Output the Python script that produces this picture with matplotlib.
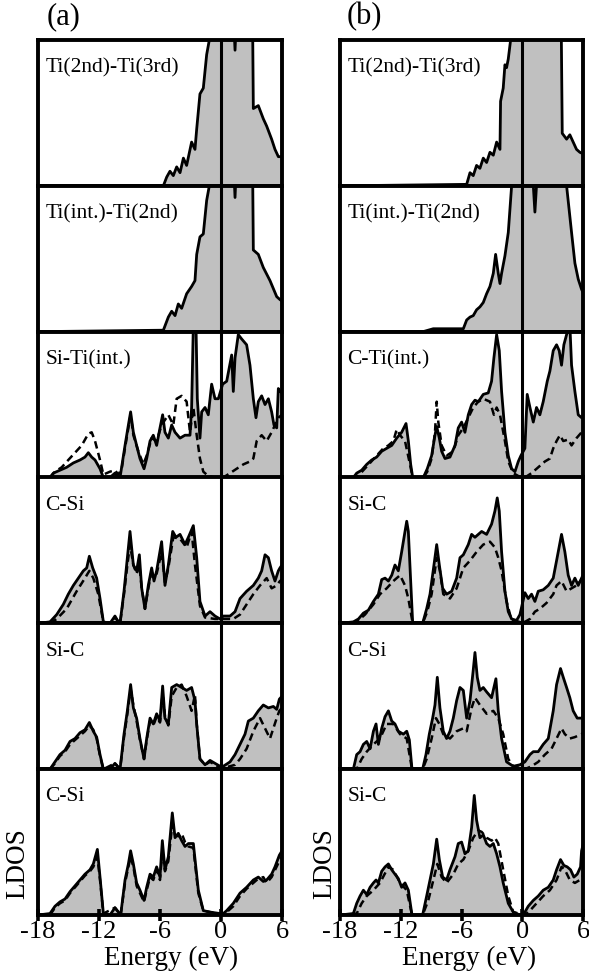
import matplotlib
matplotlib.use('Agg')
import matplotlib.pyplot as plt

plt.rcParams['font.family'] = 'serif'
plt.rcParams['font.serif'] = ['Liberation Serif', 'DejaVu Serif']
plt.rcParams['axes.unicode_minus'] = False

# energy axis
x_ticks = [-18, -12, -6, 0, 6]

labels_a = ['Ti(2nd)-Ti(3rd)', 'Ti(int.)-Ti(2nd)', 'Si-Ti(int.)', 'C-Si', 'Si-C', 'C-Si']
labels_b = ['Ti(2nd)-Ti(3rd)', 'Ti(int.)-Ti(2nd)', 'C-Ti(int.)', 'Si-C', 'C-Si', 'Si-C']

# (energy, LDOS), LDOS scaled to panel height
a1_solid = [(-18, 0), (-5.67, 0), (-5.34, 0.06), (-5.02, 0.10), (-4.69, 0.07), (-4.36, 0.13), (-4.03, 0.09),
            (-3.70, 0.19), (-3.38, 0.14), (-2.89, 0.30), (-2.56, 0.25), (-2.39, 0.39), (-2.07, 0.63), (-1.74, 0.67),
            (-1.41, 0.90), (-1.15, 1.0), (-0.5, 1.3), (0.5, 1.3), (1.2, 1.2), (1.38, 0.93), (1.55, 1.2), (2.5, 1.3),
            (3.1, 1.2), (3.18, 0.53), (3.67, 0.55), (4.16, 0.46), (4.49, 0.41), (4.98, 0.32), (5.31, 0.25),
            (5.64, 0.20), (6.0, 0.20)]
a2_solid = [(-18, 0), (-5.67, 0.01), (-5.18, 0.10), (-4.85, 0.14), (-4.52, 0.11), (-4.20, 0.19), (-3.87, 0.16),
            (-3.38, 0.26), (-2.89, 0.31), (-2.56, 0.35), (-2.39, 0.53), (-2.07, 0.65), (-1.74, 0.67), (-1.41, 0.90),
            (-1.15, 1.0), (-0.5, 1.3), (0.5, 1.3), (1.2, 1.2), (1.38, 0.92), (1.55, 1.2), (2.5, 1.3), (3.1, 1.2),
            (3.18, 0.56), (3.67, 0.53), (4.16, 0.44), (4.82, 0.35), (5.48, 0.24), (5.80, 0.22), (6.0, 0.21)]
a3_solid = [(-18, 0), (-16.82, 0), (-16.49, 0.03), (-15.84, 0.05), (-15.18, 0.07), (-14.52, 0.10), (-13.87, 0.12),
            (-13.38, 0.14), (-13.05, 0.17), (-12.72, 0.14), (-12.39, 0.12), (-11.90, 0.06), (-11.57, 0),
            (-10.92, 0), (-10.43, 0.03), (-10.10, 0), (-9.93, 0), (-9.44, 0.22), (-9.11, 0.36), (-8.89, 0.45),
            (-8.62, 0.31), (-8.30, 0.22), (-7.97, 0.13), (-7.57, 0.06), (-7.31, 0.13), (-6.98, 0.25), (-6.66, 0.29),
            (-6.33, 0.22), (-6.00, 0.34), (-5.74, 0.43), (-5.51, 0.31), (-5.18, 0.27), (-4.85, 0.36), (-4.52, 0.31),
            (-4.03, 0.27), (-3.54, 0.29), (-3.05, 0.29), (-2.89, 0.48), (-2.72, 1.05), (-2.46, 1.05), (-2.33, 0.54),
            (-2.07, 0.27), (-1.90, 0.45), (-1.57, 0.48), (-1.25, 0.43), (-0.92, 0.64), (-0.59, 0.54), (-0.26, 0.54),
            (0.16, 0.64), (0.56, 0.66), (1.05, 0.84), (1.21, 0.59), (1.38, 0.82), (1.70, 0.98), (2.03, 0.95),
            (2.52, 0.91), (2.85, 0.77), (3.18, 0.54), (3.44, 0.41), (3.67, 0.52), (4.00, 0.56), (4.33, 0.50),
            (4.66, 0.54), (4.98, 0.45), (5.21, 0.36), (5.48, 0.34), (5.64, 0.61), (5.80, 0.59), (6.0, 0.58)]
a3_dash = [(-18, 0), (-16.82, 0), (-16.33, 0.04), (-15.67, 0.07), (-15.02, 0.12), (-14.36, 0.17), (-13.70, 0.22),
           (-13.05, 0.30), (-12.72, 0.31), (-12.39, 0.25), (-11.90, 0.12), (-11.57, 0.02), (-10.92, 0.04),
           (-10.43, 0.05), (-10.10, 0.02), (-9.77, 0.06), (-9.28, 0.27), (-8.89, 0.43), (-8.62, 0.29), (-8.13, 0.18),
           (-7.64, 0.09), (-7.31, 0.15), (-6.82, 0.27), (-6.33, 0.25), (-5.84, 0.36), (-5.18, 0.43), (-4.69, 0.36),
           (-4.36, 0.54), (-3.87, 0.56), (-3.38, 0.52), (-3.05, 0.31), (-2.72, 0.48), (-2.39, 0.29), (-2.07, 0.13),
           (-1.74, 0.04), (-1.25, 0.01), (-0.59, 0), (0.23, 0), (0.89, 0.03), (1.54, 0.06), (2.20, 0.09),
           (2.85, 0.11), (3.18, 0.13), (3.51, 0.25), (4.00, 0.29), (4.49, 0.25), (4.98, 0.31), (5.31, 0.36),
           (5.64, 0.41), (6.0, 0.43)]
a4_solid = [(-18, 0), (-16.82, 0.01), (-16.16, 0.06), (-15.51, 0.13), (-15.02, 0.20), (-14.52, 0.26), (-14.03, 0.31),
            (-13.54, 0.36), (-13.21, 0.38), (-12.95, 0.46), (-12.62, 0.38), (-12.23, 0.31), (-11.90, 0.17),
            (-11.57, 0.01), (-10.92, 0), (-10.43, 0.05), (-10.10, 0.01), (-9.93, 0), (-9.54, 0.22), (-9.21, 0.45),
            (-8.95, 0.63), (-8.62, 0.40), (-8.30, 0.36), (-8.03, 0.47), (-7.80, 0.24), (-7.48, 0.10), (-7.15, 0.26),
            (-6.82, 0.38), (-6.59, 0.29), (-6.33, 0.36), (-5.84, 0.56), (-5.51, 0.26), (-5.18, 0.40), (-4.75, 0.63),
            (-4.43, 0.59), (-4.03, 0.61), (-3.54, 0.54), (-3.21, 0.59), (-2.72, 0.67), (-2.39, 0.45), (-2.07, 0.15),
            (-1.57, 0.05), (-1.08, 0.08), (-0.59, 0.05), (-0.10, 0.03), (0.23, 0.05), (0.89, 0.05), (1.38, 0.08),
            (1.87, 0.17), (2.52, 0.22), (3.18, 0.26), (3.67, 0.31), (4.00, 0.36), (4.33, 0.47), (4.66, 0.45),
            (4.98, 0.36), (5.31, 0.29), (5.64, 0.36), (5.80, 0.38), (6.0, 0.40)]
a4_dash = [(-18, 0), (-16.82, 0), (-16.16, 0.03), (-15.18, 0.10), (-14.20, 0.22), (-13.38, 0.31), (-12.95, 0.36),
           (-12.56, 0.31), (-12.07, 0.20), (-11.57, 0.01), (-10.92, 0), (-10.43, 0.04), (-9.93, 0), (-9.54, 0.20),
           (-9.21, 0.40), (-8.95, 0.54), (-8.62, 0.40), (-8.30, 0.34), (-8.03, 0.40), (-7.80, 0.24), (-7.48, 0.10),
           (-7.15, 0.24), (-6.82, 0.36), (-6.33, 0.34), (-5.84, 0.49), (-5.51, 0.28), (-5.18, 0.38), (-4.69, 0.59),
           (-4.03, 0.58), (-3.38, 0.52), (-2.89, 0.63), (-2.56, 0.40), (-2.07, 0.12), (-1.57, 0.04), (-0.59, 0.03),
           (0.23, 0.03), (1.21, 0.03), (1.87, 0.06), (2.52, 0.13), (3.18, 0.20), (3.84, 0.26), (4.49, 0.31),
           (4.98, 0.24), (5.48, 0.26), (5.80, 0.29), (6.0, 0.30)]
a5_solid = [(-18, 0), (-16.82, 0), (-16.33, 0.05), (-15.84, 0.10), (-15.34, 0.13), (-14.85, 0.19), (-14.36, 0.21),
            (-13.87, 0.25), (-13.38, 0.27), (-12.95, 0.32), (-12.56, 0.26), (-12.23, 0.22), (-11.90, 0.10),
            (-11.57, 0), (-10.92, 0), (-10.43, 0.04), (-9.93, 0), (-9.54, 0.24), (-9.21, 0.40), (-8.89, 0.58),
            (-8.62, 0.42), (-8.30, 0.35), (-7.97, 0.21), (-7.57, 0.07), (-7.31, 0.21), (-6.98, 0.35), (-6.66, 0.31),
            (-6.33, 0.38), (-6.00, 0.33), (-5.74, 0.57), (-5.51, 0.35), (-5.18, 0.31), (-4.85, 0.56), (-4.36, 0.58),
            (-3.87, 0.56), (-3.38, 0.54), (-2.89, 0.56), (-2.56, 0.47), (-2.39, 0.31), (-2.07, 0.07), (-1.57, 0.03),
            (-1.08, 0.06), (-0.59, 0.04), (-0.10, 0.02), (0.23, 0.02), (0.89, 0.05), (1.38, 0.10), (1.87, 0.17),
            (2.36, 0.24), (2.69, 0.33), (3.18, 0.35), (3.67, 0.40), (4.16, 0.44), (4.66, 0.42), (5.15, 0.43),
            (5.48, 0.41), (5.74, 0.48), (6.0, 0.50)]
a5_dash = [(-18, 0), (-16.82, 0), (-16.33, 0.04), (-15.84, 0.09), (-15.34, 0.12), (-14.85, 0.17), (-14.36, 0.20),
           (-13.87, 0.23), (-13.38, 0.26), (-12.95, 0.30), (-12.56, 0.27), (-12.23, 0.21), (-11.90, 0.09),
           (-11.57, 0), (-10.43, 0.04), (-9.93, 0), (-9.54, 0.22), (-9.21, 0.38), (-8.89, 0.55), (-8.62, 0.44),
           (-8.30, 0.33), (-7.97, 0.20), (-7.57, 0.07), (-7.31, 0.20), (-6.98, 0.33), (-6.66, 0.30), (-6.33, 0.36),
           (-6.00, 0.32), (-5.74, 0.52), (-5.51, 0.36), (-5.18, 0.30), (-4.85, 0.50), (-4.36, 0.56), (-3.87, 0.58),
           (-3.38, 0.50), (-2.89, 0.40), (-2.56, 0.51), (-2.39, 0.31), (-2.07, 0.07), (-1.57, 0.03), (-1.08, 0.05),
           (-0.59, 0.03), (-0.10, 0.01), (0.23, 0.01), (0.89, 0.02), (1.38, 0.03), (1.87, 0.07), (2.52, 0.14),
           (3.18, 0.26), (3.84, 0.35), (4.33, 0.28), (4.82, 0.21), (5.15, 0.28), (5.48, 0.35), (5.74, 0.40),
           (6.0, 0.42)]
a6_solid = [(-18, 0), (-16.82, 0.01), (-16.33, 0.06), (-15.84, 0.09), (-15.34, 0.11), (-14.85, 0.16), (-14.36, 0.20),
            (-13.87, 0.24), (-13.38, 0.28), (-12.89, 0.31), (-12.56, 0.35), (-12.16, 0.45), (-11.90, 0.26),
            (-11.57, 0.01), (-10.92, 0), (-10.43, 0.05), (-9.87, 0), (-9.44, 0.24), (-9.11, 0.35), (-8.89, 0.44),
            (-8.62, 0.35), (-8.30, 0.22), (-7.97, 0.17), (-7.57, 0.10), (-7.31, 0.19), (-6.98, 0.28), (-6.66, 0.26),
            (-6.33, 0.33), (-6.00, 0.26), (-5.77, 0.51), (-5.51, 0.31), (-5.18, 0.40), (-4.79, 0.70), (-4.52, 0.53),
            (-4.20, 0.56), (-3.87, 0.51), (-3.54, 0.47), (-3.21, 0.49), (-2.72, 0.49), (-2.23, 0.17), (-1.74, 0.03),
            (-1.08, 0.02), (-0.10, 0.01), (0.07, 0), (0.56, 0.03), (1.21, 0.08), (1.87, 0.15), (2.52, 0.19),
            (3.18, 0.24), (3.67, 0.26), (4.16, 0.23), (4.49, 0.24), (4.98, 0.28), (5.31, 0.33), (5.74, 0.41),
            (6.0, 0.44)]
a6_dash = [(-18, 0), (-16.82, 0), (-16.33, 0.05), (-15.84, 0.08), (-15.34, 0.10), (-14.85, 0.15), (-14.36, 0.19),
           (-13.87, 0.23), (-13.38, 0.27), (-12.89, 0.30), (-12.56, 0.33), (-12.16, 0.40), (-11.90, 0.24),
           (-11.57, 0.01), (-10.43, 0.05), (-9.87, 0), (-9.44, 0.22), (-9.11, 0.33), (-8.89, 0.40), (-8.62, 0.33),
           (-8.30, 0.20), (-7.97, 0.15), (-7.57, 0.09), (-7.31, 0.17), (-6.98, 0.26), (-6.66, 0.24), (-6.33, 0.31),
           (-6.00, 0.24), (-5.77, 0.44), (-5.51, 0.30), (-5.18, 0.37), (-4.79, 0.62), (-4.52, 0.55), (-4.20, 0.54),
           (-3.87, 0.56), (-3.54, 0.50), (-3.21, 0.47), (-2.72, 0.46), (-2.23, 0.15), (-1.74, 0.03), (-1.08, 0.02),
           (-0.10, 0.01), (0.07, 0), (0.56, 0.02), (1.21, 0.06), (1.87, 0.13), (2.52, 0.18), (3.18, 0.22),
           (3.51, 0.24), (4.16, 0.26), (4.49, 0.22), (4.98, 0.26), (5.74, 0.37), (6.0, 0.40)]

b1_solid = [(-18, 0), (-5.49, 0.01), (-5.16, 0.09), (-4.84, 0.07), (-4.51, 0.14), (-4.18, 0.12), (-3.85, 0.19),
            (-3.52, 0.16), (-3.19, 0.23), (-2.86, 0.21), (-2.53, 0.30), (-2.20, 0.25), (-2.14, 0.58), (-1.88, 0.67),
            (-1.71, 0.83), (-1.55, 0.81), (-1.38, 0.87), (-1.15, 1.0), (0, 1.3), (3.6, 1.3), (3.85, 1.1),
            (3.95, 0.36), (4.38, 0.32), (4.70, 0.35), (5.03, 0.30), (5.36, 0.25), (5.69, 0.23), (6.0, 0.22)]
b2_solid = [(-18, 0), (-9.8, 0), (-8.79, 0.02), (-5.82, 0.02), (-5.49, 0.08), (-5.16, 0.10), (-4.84, 0.11),
            (-4.51, 0.15), (-4.18, 0.17), (-3.85, 0.20), (-3.52, 0.26), (-3.19, 0.31), (-2.86, 0.40), (-2.63, 0.53),
            (-2.37, 0.40), (-2.20, 0.33), (-2.04, 0.40), (-1.71, 0.52), (-1.38, 0.68), (-1.05, 1.0), (0, 1.3),
            (1.05, 1.05), (1.25, 0.82), (1.45, 1.05), (2.0, 1.3), (4.2, 1.3), (4.38, 1.0), (4.87, 0.68),
            (5.20, 0.47), (5.53, 0.36), (5.86, 0.29), (6.0, 0.27)]
b3_solid = [(-18, 0), (-16.68, 0), (-16.35, 0.03), (-15.86, 0.05), (-15.36, 0.09), (-14.87, 0.12), (-14.38, 0.14),
            (-13.88, 0.18), (-13.39, 0.20), (-12.89, 0.22), (-12.40, 0.27), (-11.91, 0.31), (-11.48, 0.37),
            (-11.25, 0.25), (-11.02, 0.09), (-10.82, 0), (-9.77, 0), (-9.38, 0.06), (-8.95, 0.15), (-8.62, 0.29),
            (-8.45, 0.35), (-8.19, 0.27), (-7.96, 0.18), (-7.63, 0.13), (-7.14, 0.14), (-6.64, 0.22), (-6.32, 0.34),
            (-5.99, 0.38), (-5.66, 0.31), (-5.33, 0.43), (-5.00, 0.50), (-4.67, 0.53), (-4.34, 0.52), (-3.85, 0.57),
            (-3.36, 0.58), (-3.03, 0.66), (-2.80, 0.82), (-2.53, 0.98), (-2.27, 0.87), (-2.04, 0.59), (-1.71, 0.31),
            (-1.38, 0.15), (-1.05, 0.06), (-0.72, 0.04), (-0.39, 0.11), (-0.13, 0.15), (0.26, 0.20), (0.49, 0.57),
            (0.76, 0.48), (1.09, 0.38), (1.41, 0.48), (1.74, 0.43), (2.07, 0.52), (2.47, 0.66), (2.73, 0.73),
            (3.06, 0.87), (3.39, 0.91), (3.65, 0.87), (3.88, 0.77), (4.11, 0.91), (4.38, 0.98), (4.70, 1.05),
            (4.87, 0.77), (5.20, 0.59), (5.53, 0.43), (5.86, 0.41), (6.0, 0.42)]
b3_dash = [(-18, 0), (-16.35, 0), (-15.69, 0.05), (-15.03, 0.10), (-14.38, 0.15), (-13.72, 0.20), (-13.22, 0.22),
           (-12.73, 0.25), (-12.40, 0.33), (-12.07, 0.29), (-11.58, 0.25), (-11.09, 0.09), (-10.82, 0), (-9.77, 0),
           (-9.38, 0.04), (-8.95, 0.13), (-8.62, 0.31), (-8.45, 0.52), (-8.29, 0.38), (-7.96, 0.22), (-7.47, 0.15),
           (-6.81, 0.18), (-6.32, 0.29), (-5.82, 0.34), (-5.33, 0.41), (-4.84, 0.48), (-4.34, 0.52), (-3.85, 0.54),
           (-3.19, 0.52), (-2.80, 0.43), (-2.53, 0.48), (-2.20, 0.43), (-1.71, 0.25), (-1.38, 0.11), (-0.89, 0.03),
           (-0.13, 0), (0.26, 0), (0.92, 0.03), (1.58, 0.07), (2.24, 0.11), (2.73, 0.13), (3.06, 0.20), (3.39, 0.25),
           (3.72, 0.29), (4.05, 0.25), (4.54, 0.26), (4.87, 0.22), (5.36, 0.27), (5.86, 0.31), (6.0, 0.32)]
b4_solid = [(-18, 0), (-16.68, 0.01), (-16.18, 0.03), (-15.69, 0.07), (-15.20, 0.09), (-14.70, 0.15), (-14.21, 0.20),
            (-13.88, 0.30), (-13.55, 0.31), (-13.22, 0.29), (-12.89, 0.33), (-12.57, 0.40), (-12.24, 0.36),
            (-11.91, 0.49), (-11.58, 0.63), (-11.41, 0.70), (-11.25, 0.63), (-11.02, 0.29), (-10.82, 0), (-9.84, 0),
            (-9.44, 0.10), (-9.11, 0.20), (-8.72, 0.40), (-8.45, 0.54), (-8.19, 0.40), (-7.86, 0.24), (-7.47, 0.20),
            (-6.97, 0.22), (-6.48, 0.31), (-6.15, 0.45), (-5.82, 0.47), (-5.33, 0.54), (-5.00, 0.61), (-4.67, 0.59),
            (-4.01, 0.63), (-3.52, 0.61), (-3.03, 0.68), (-2.70, 0.77), (-2.47, 0.86), (-2.27, 0.77), (-2.04, 0.49),
            (-1.71, 0.22), (-1.38, 0.08), (-1.05, 0.03), (-0.56, 0.02), (-0.23, 0.06), (0.26, 0.21), (0.59, 0.17),
            (0.92, 0.20), (1.25, 0.15), (1.58, 0.22), (2.07, 0.23), (2.57, 0.26), (3.06, 0.31), (3.39, 0.43),
            (3.88, 0.61), (4.21, 0.49), (4.54, 0.33), (4.87, 0.26), (5.20, 0.31), (5.53, 0.26), (5.86, 0.31),
            (6.0, 0.33)]
b4_dash = [(-18, 0), (-16.35, 0.01), (-15.53, 0.06), (-14.70, 0.13), (-14.05, 0.20), (-13.39, 0.24), (-12.73, 0.29),
           (-12.07, 0.33), (-11.58, 0.26), (-11.25, 0.17), (-10.82, 0), (-9.84, 0), (-9.38, 0.08), (-8.95, 0.20),
           (-8.45, 0.45), (-8.13, 0.36), (-7.80, 0.20), (-7.14, 0.17), (-6.48, 0.24), (-5.82, 0.38), (-5.16, 0.43),
           (-4.51, 0.49), (-3.85, 0.54), (-3.19, 0.56), (-2.70, 0.52), (-2.37, 0.45), (-2.04, 0.36), (-1.55, 0.15),
           (-1.05, 0.02), (-0.23, 0.01), (0.26, 0.01), (0.76, 0.03), (1.25, 0.08), (1.74, 0.10), (2.40, 0.14),
           (3.06, 0.20), (3.39, 0.26), (3.88, 0.29), (4.38, 0.22), (4.87, 0.24), (5.36, 0.26), (5.86, 0.30),
           (6.0, 0.31)]
b5_solid = [(-18, 0), (-16.68, 0), (-16.35, 0.10), (-16.02, 0.12), (-15.69, 0.17), (-15.36, 0.19), (-15.03, 0.14),
            (-14.70, 0.26), (-14.44, 0.31), (-14.21, 0.17), (-13.88, 0.28), (-13.55, 0.36), (-13.22, 0.40),
            (-12.89, 0.33), (-12.57, 0.31), (-12.24, 0.26), (-11.74, 0.24), (-11.41, 0.26), (-11.15, 0.20),
            (-10.89, 0), (-9.84, 0), (-9.51, 0.10), (-9.18, 0.24), (-8.85, 0.35), (-8.62, 0.44), (-8.39, 0.63),
            (-8.13, 0.42), (-7.80, 0.26), (-7.47, 0.21), (-7.14, 0.26), (-6.81, 0.35), (-6.48, 0.47), (-6.15, 0.56),
            (-5.82, 0.54), (-5.49, 0.35), (-5.16, 0.47), (-4.84, 0.68), (-4.67, 0.80), (-4.44, 0.63), (-4.18, 0.54),
            (-3.85, 0.56), (-3.52, 0.53), (-3.03, 0.49), (-2.60, 0.62), (-2.37, 0.40), (-2.04, 0.21), (-1.55, 0.05),
            (-0.89, 0.02), (-0.23, 0.03), (0.26, 0.05), (0.76, 0.10), (1.09, 0.12), (1.58, 0.12), (2.07, 0.17),
            (2.57, 0.21), (3.06, 0.40), (3.39, 0.58), (3.78, 0.69), (4.05, 0.63), (4.38, 0.56), (4.70, 0.49),
            (5.03, 0.40), (5.43, 0.35), (5.86, 0.35), (6.0, 0.36)]
b5_dash = [(-18, 0), (-16.35, 0), (-15.86, 0.07), (-15.36, 0.12), (-14.70, 0.17), (-14.05, 0.21), (-13.39, 0.31),
           (-12.73, 0.31), (-12.07, 0.24), (-11.41, 0.21), (-10.89, 0), (-9.84, 0), (-9.44, 0.07), (-8.95, 0.21),
           (-8.52, 0.35), (-8.19, 0.31), (-7.80, 0.24), (-7.14, 0.21), (-6.48, 0.26), (-5.82, 0.28), (-5.49, 0.26),
           (-5.00, 0.42), (-4.67, 0.49), (-4.18, 0.44), (-3.52, 0.38), (-2.86, 0.40), (-2.37, 0.35), (-1.88, 0.24),
           (-1.38, 0.07), (-0.89, 0.02), (0.26, 0), (0.92, 0.02), (1.58, 0.05), (2.24, 0.10), (2.89, 0.14),
           (3.39, 0.21), (3.88, 0.28), (4.21, 0.24), (4.70, 0.21), (5.20, 0.22), (5.86, 0.24), (6.0, 0.25)]
b6_solid = [(-18, 0), (-16.68, 0.01), (-16.35, 0.08), (-16.02, 0.13), (-15.69, 0.17), (-15.36, 0.14), (-15.03, 0.19),
            (-14.70, 0.22), (-14.44, 0.24), (-14.21, 0.22), (-13.88, 0.30), (-13.55, 0.33), (-13.22, 0.35),
            (-12.89, 0.31), (-12.57, 0.28), (-12.24, 0.25), (-11.91, 0.19), (-11.58, 0.22), (-11.25, 0.17),
            (-10.89, 0), (-9.84, 0), (-9.44, 0.13), (-9.11, 0.24), (-8.78, 0.35), (-8.45, 0.52), (-8.19, 0.38),
            (-7.86, 0.26), (-7.47, 0.24), (-7.14, 0.31), (-6.64, 0.40), (-6.32, 0.49), (-5.99, 0.50), (-5.66, 0.42),
            (-5.33, 0.44), (-5.00, 0.60), (-4.74, 0.82), (-4.51, 0.65), (-4.18, 0.53), (-3.85, 0.55), (-3.52, 0.49),
            (-3.19, 0.47), (-2.86, 0.49), (-2.53, 0.42), (-2.20, 0.33), (-1.88, 0.22), (-1.38, 0.08), (-0.89, 0.02),
            (-0.23, 0), (0.10, 0), (0.59, 0.06), (1.09, 0.10), (1.58, 0.13), (2.07, 0.17), (2.57, 0.19), (3.06, 0.24),
            (3.39, 0.31), (3.78, 0.38), (4.11, 0.34), (4.44, 0.33), (4.77, 0.31), (5.10, 0.26), (5.43, 0.28),
            (5.76, 0.33), (5.86, 0.44), (6.0, 0.48)]
b6_dash = [(-18, 0), (-16.35, 0.01), (-15.86, 0.08), (-15.36, 0.13), (-14.70, 0.17), (-14.05, 0.22), (-13.22, 0.33),
           (-12.73, 0.31), (-12.07, 0.22), (-11.41, 0.17), (-10.89, 0), (-9.84, 0), (-9.28, 0.10), (-8.78, 0.24),
           (-8.39, 0.35), (-7.96, 0.26), (-7.47, 0.22), (-6.81, 0.28), (-6.32, 0.35), (-5.82, 0.38), (-5.33, 0.44),
           (-4.84, 0.53), (-4.34, 0.58), (-4.01, 0.57), (-3.52, 0.53), (-3.03, 0.51), (-2.70, 0.53), (-2.37, 0.49),
           (-1.88, 0.31), (-1.38, 0.13), (-0.89, 0.02), (0.26, 0), (0.76, 0.03), (1.41, 0.08), (2.07, 0.13),
           (2.73, 0.17), (3.39, 0.24), (3.88, 0.33), (4.21, 0.31), (4.70, 0.24), (5.20, 0.22), (5.69, 0.24),
           (6.0, 0.27)]

col_a = [(a1_solid, None), (a2_solid, None), (a3_solid, a3_dash), (a4_solid, a4_dash),
         (a5_solid, a5_dash), (a6_solid, a6_dash)]
col_b = [(b1_solid, None), (b2_solid, None), (b3_solid, b3_dash), (b4_solid, b4_dash),
         (b5_solid, b5_dash), (b6_solid, b6_dash)]

W, H = 589, 977
fig = plt.figure(figsize=(W / 100, H / 100), dpi=100)

top_px, bot_px = 40, 915
panel_h = (bot_px - top_px) / 6


def draw_column(left_px, width_px, panels, labels, tag, tag_x_px, ldos_x_px, xlabel_x_px):
    for i, ((solid, dash), lab) in enumerate(zip(panels, labels)):
        y0 = top_px + i * panel_h
        ax = fig.add_axes([left_px / W, 1 - (y0 + panel_h) / H, width_px / W, panel_h / H])
        e = [p[0] for p in solid]
        v = [p[1] for p in solid]
        ax.fill_between(e, 0, v, color='#c0c0c0', lw=0)
        ax.plot(e, v, color='black', lw=2.0)
        if dash is not None:
            ax.plot([p[0] for p in dash], [p[1] for p in dash], color='black', lw=1.8,
                    dashes=(3.0, 1.8))
        ax.axvline(0, color='black', lw=2.2)
        ax.set_xlim(-18, 6)
        ax.set_ylim(0, 1.0)
        ax.set_yticks([])
        for s in ax.spines.values():
            s.set_linewidth(2.8)
        ax.text(0.03, 0.875, lab, transform=ax.transAxes, fontsize=15.5, va='top', ha='left')
        ax.set_xticks(x_ticks)
        if i == 5:
            ax.tick_params(axis='x', direction='inout', length=9, width=2.6, labelsize=19, pad=0)
            ax.set_xticklabels([str(t) for t in x_ticks])
        else:
            ax.tick_params(axis='x', length=0, labelbottom=False)
    fig.text(tag_x_px / W, 1 - 17 / H, tag, fontsize=22, ha='center', va='center')
    fig.text(ldos_x_px / W, 1 - 864 / H, 'LDOS', fontsize=19.5, rotation=90, ha='center', va='center')
    fig.text(xlabel_x_px / W, 1 - 958 / H, 'Energy (eV)', fontsize=19.5, ha='center', va='center')


draw_column(38, 244, col_a, labels_a, '(a)', 64, 18, 171)
draw_column(340, 243, col_b, labels_b, '(b)', 364, 325, 469)

fig.savefig('out.png', dpi=100)
